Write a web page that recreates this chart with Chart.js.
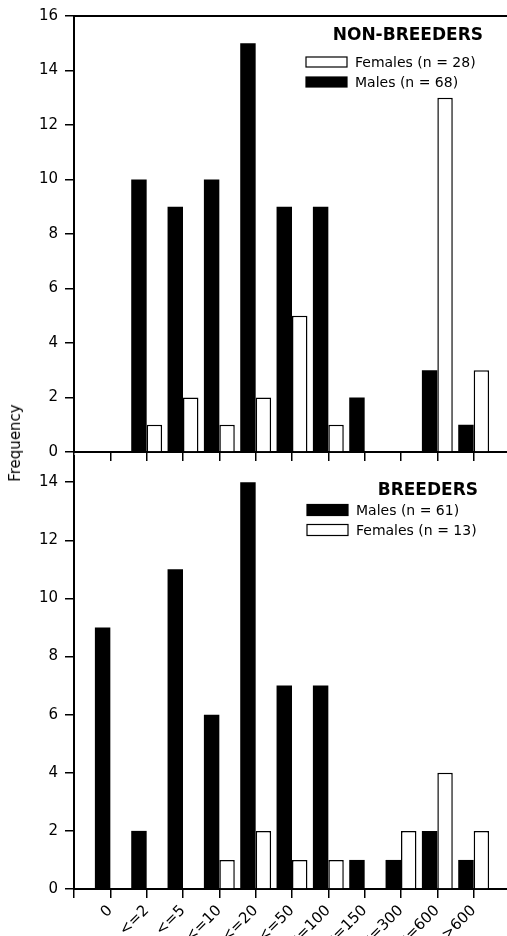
<!DOCTYPE html>
<html>
<head>
<meta charset="utf-8">
<script src="https://cdn.jsdelivr.net/npm/chart.js@4"></script>
<style>
  html, body { margin: 0; padding: 0; background: #fff; overflow: hidden; }
  body { width: 507px; height: 936px; position: relative; }
  .panel { position: absolute; left: 0; }
  #top-wrap { top: 0; width: 510px; height: 470px; }
  #bottom-wrap { top: 440px; width: 510px; height: 496px; }
  #ylab {
    position: absolute; left: 15px; top: 443px;
    transform: translate(-50%, -50%) rotate(-90deg);
    font: 15px "DejaVu Sans", sans-serif; color: #000; white-space: nowrap;
  }
</style>
</head>
<body>
<div class="panel" id="top-wrap"><canvas id="topChart"></canvas></div>
<div class="panel" id="bottom-wrap"><canvas id="bottomChart"></canvas></div>
<div id="ylab">Frequency</div>

<script>
// ranges on the x axis (blank slot at each end so the axis starts/ends off a category)
const categories = ['0', '<=2', '<=5', '<=10', '<=20', '<=50', '<=100', '<=150', '<=300', '<=600', '>600'];

// non-breeders
const nbMales   = [0, 10, 9, 10, 15, 9, 9, 2, 0, 3, 1];
const nbFemales = [0, 1, 2, 1, 2, 5, 1, 0, 0, 13, 3];

// breeders
const brMales   = [9, 2, 11, 6, 14, 7, 7, 1, 1, 2, 1];
const brFemales = [0, 0, 0, 1, 2, 1, 1, 0, 2, 4, 2];

const yTicksTop = [0, 2, 4, 6, 8, 10, 12, 14, 16];
const yTicksBottom = [0, 2, 4, 6, 8, 10, 12, 14];

Chart.defaults.font.family = '"DejaVu Sans", sans-serif';
Chart.defaults.color = '#000';

const labels = [''].concat(categories, ['']);
const pad = (arr) => [null].concat(arr, [null]);

// draws the title + boxed legend inside the plot, like the printed figure
const boxLegend = {
  id: 'boxLegend',
  afterDraw(chart, args, opts) {
    const ctx = chart.ctx;
    ctx.save();
    ctx.fillStyle = '#000';
    ctx.font = 'bold 17px "DejaVu Sans"';
    ctx.textAlign = 'right';
    ctx.textBaseline = 'alphabetic';
    ctx.fillText(opts.title, opts.titleX, opts.titleY);
    ctx.font = '14px "DejaVu Sans"';
    ctx.textAlign = 'left';
    ctx.textBaseline = 'middle';
    opts.order.forEach((i, k) => {
      const ds = chart.data.datasets[i];
      const y = opts.y + k * opts.rowGap;
      ctx.fillStyle = ds.backgroundColor;
      ctx.fillRect(opts.x, y - opts.boxH / 2, 41, opts.boxH);
      ctx.lineWidth = 1.2;
      ctx.strokeStyle = '#000';
      ctx.strokeRect(opts.x, y - opts.boxH / 2, 41, opts.boxH);
      ctx.fillStyle = '#000';
      ctx.fillText(ds.label, opts.x + 49, y + 1);
    });
    ctx.restore();
  }
};

function makeChart(id, males, females, cfg) {
  const ctx = document.getElementById(id).getContext('2d');
  const scales = {
    x: {
      type: 'category',
      offset: false,
      grid: { offset: false, drawOnChartArea: false, drawTicks: true, tickLength: 9, color: '#000', lineWidth: 1.5 },
      border: { display: true, color: '#000', width: 2 },
      ticks: {
        display: cfg.showX,
        autoSkip: false,
        minRotation: 45,
        maxRotation: 45,
        padding: 4,
        font: { size: 15 }
      },
      afterFit: (s) => { s.height = cfg.xHeight; s.paddingLeft = 0; s.paddingRight = 0; }
    },
    y: {
      min: 0,
      max: cfg.yMax,
      afterBuildTicks: (s) => { s.ticks = cfg.yTicks.map((v) => ({ value: v })); },
      grid: { drawOnChartArea: false, drawTicks: true, tickLength: 9, color: '#000', lineWidth: 1.5 },
      border: { display: true, color: '#000', width: 2 },
      ticks: { padding: 7, font: { size: 15 } },
      afterFit: (s) => { s.width = 74; }
    }
  };
  if (cfg.topLine) {
    scales.x2 = {
      type: 'category',
      position: 'top',
      offset: false,
      grid: { offset: false, display: false, drawTicks: false },
      border: { display: true, color: '#000', width: 2 },
      ticks: { display: false },
      afterFit: (s) => { s.height = 0; s.paddingLeft = 0; s.paddingRight = 0; }
    };
  }
  return new Chart(ctx, {
    type: 'bar',
    data: {
      labels: labels,
      datasets: [
        {
          label: cfg.maleLabel,
          data: pad(males),
          backgroundColor: '#000',
          borderColor: '#000',
          borderWidth: 0
        },
        {
          label: cfg.femaleLabel,
          data: pad(females),
          backgroundColor: '#fff',
          borderColor: '#000',
          borderWidth: 1.5
        }
      ]
    },
    options: {
      responsive: true,
      maintainAspectRatio: false,
      animation: false,
      categoryPercentage: 0.85,
      barPercentage: 1,
      layout: { padding: { top: cfg.padTop, left: 0, right: 0, bottom: 0 } },
      scales: scales,
      plugins: {
        legend: { display: false },
        tooltip: { enabled: false },
        boxLegend: cfg.legend
      }
    },
    plugins: [boxLegend]
  });
}

makeChart('topChart', nbMales, nbFemales, {
  showX: false,
  xHeight: 18,
  yMax: 16,
  yTicks: yTicksTop,
  topLine: true,
  padTop: 14,
  maleLabel: 'Males (n = 68)',
  femaleLabel: 'Females (n = 28)',
  legend: { title: 'NON-BREEDERS', titleX: 483, titleY: 40, x: 306, y: 62, rowGap: 20, boxH: 10, order: [1, 0] }
});

makeChart('bottomChart', brMales, brFemales, {
  showX: true,
  xHeight: 47,
  yMax: 14.9,
  yTicks: yTicksBottom,
  topLine: false,
  padTop: 16,
  maleLabel: 'Males (n = 61)',
  femaleLabel: 'Females (n = 13)',
  legend: { title: 'BREEDERS', titleX: 478, titleY: 55, x: 307, y: 70, rowGap: 20, boxH: 11, order: [0, 1] }
});
</script>
</body>
</html>
